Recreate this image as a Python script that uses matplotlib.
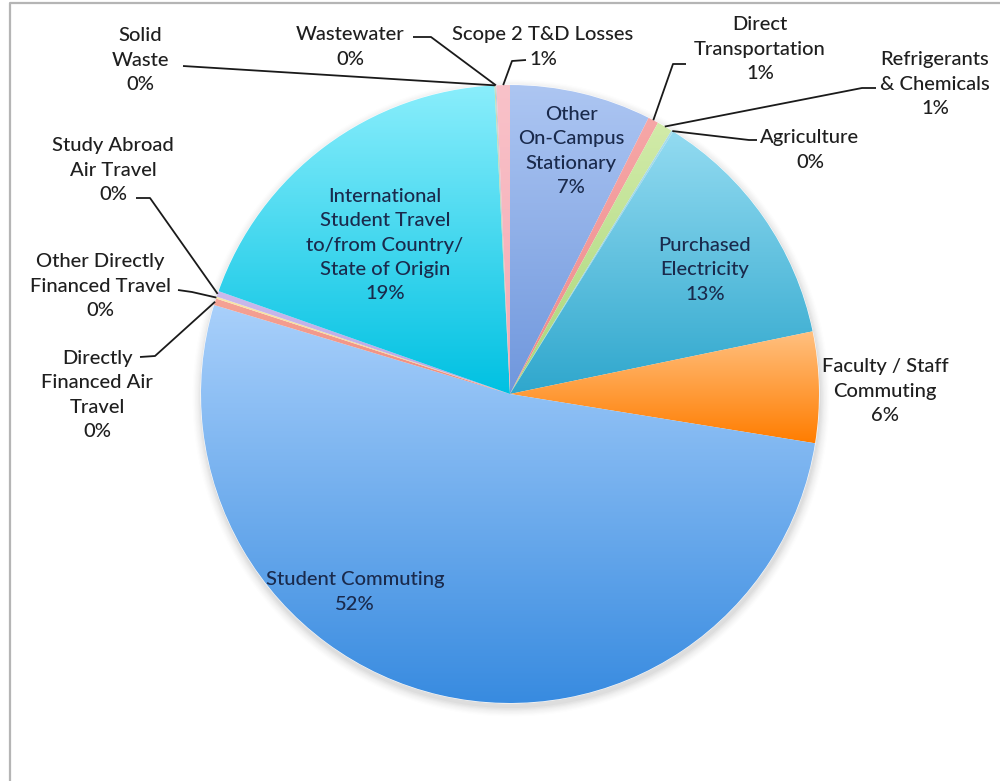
import numpy as np
import matplotlib
matplotlib.use("Agg")
import matplotlib.pyplot as plt
from matplotlib.colors import to_rgb
from matplotlib.patches import Circle

plt.rcParams["font.family"] = ["Lato", "DejaVu Sans"]

# Emission sources (percent of total), clockwise from 12 o'clock
categories = [
    "Other\nOn-Campus\nStationary",
    "Direct\nTransportation",
    "Refrigerants\n& Chemicals",
    "Agriculture",
    "Purchased\nElectricity",
    "Faculty / Staff\nCommuting",
    "Student Commuting",
    "Directly\nFinanced Air\nTravel",
    "Other Directly\nFinanced Travel",
    "Study Abroad\nAir Travel",
    "International\nStudent Travel\nto/from Country/\nState of Origin",
    "Solid\nWaste",
    "Wastewater",
    "Scope 2 T&D Losses",
]
shares = [7.4, 0.55, 0.8, 0.1, 12.9, 5.8, 52.1, 0.35, 0.1, 0.3, 18.8, 0.05, 0.05, 0.7]

# (top colour, bottom colour) of each slice's vertical gradient
gradients = [
    ("#adc6f2", "#6f97dd"),
    ("#f6a7a7", "#ee8a8a"),
    ("#d2eba9", "#a8d679"),
    ("#a9dcea", "#8fcfe2"),
    ("#93dbf1", "#2fa7cd"),
    ("#ffc080", "#ff7d00"),
    ("#a9d0fb", "#388be0"),
    ("#f5a396", "#ef8a7a"),
    ("#f8e6a8", "#f1d88a"),
    ("#cbbaec", "#b9a3e2"),
    ("#8aeefc", "#00c1e2"),
    ("#c9d9a8", "#b8cc90"),
    ("#bfc9d9", "#a9b5c9"),
    ("#f9c2c9", "#f4a9b2"),
]

W, H = 1000, 781
fig = plt.figure(figsize=(W / 100, H / 100), dpi=100)
ax = fig.add_axes([0, 0, 1, 1])
ax.set_axis_off()


def px(x, y):
    """Pixel position (origin top-left) to data coordinates."""
    return x, H - y


cx, cy = px(510, 394)
R = 309

# soft drop shadow under the pie
for k, a in enumerate(np.linspace(0.05, 0.012, 8)):
    ax.add_patch(Circle((cx + 1, cy - 4), R + 1 + k * 1.2, color="#7a7a7a",
                        alpha=a, lw=0, zorder=0))
ax.add_patch(Circle((cx, cy), R + 0.5, color="white", lw=0, zorder=0.5))

wedges, _ = ax.pie(shares, center=(cx, cy), radius=R, startangle=90,
                   counterclock=False, wedgeprops=dict(linewidth=0))

for w, (ctop, cbot) in zip(wedges, gradients):
    w.set_facecolor("none")
    bb = w.get_path().get_extents()
    t = np.linspace(0, 1, 256)[:, None]
    c0, c1 = np.array(to_rgb(ctop)), np.array(to_rgb(cbot))
    img = (c0[None, :] * (1 - t) + c1[None, :] * t)[:, None, :]
    im = ax.imshow(img, extent=(bb.x0, bb.x1, bb.y0, bb.y1), origin="upper",
                   aspect="auto", zorder=1, interpolation="bilinear")
    im.set_clip_path(w)

total = sum(shares)
pct = [f"{round(100 * v / total)}%" for v in shares]

INSIDE = "#1a2a4c"
OUTSIDE = "#1f1f1f"
FS = 14.5
LS = 1.52


def edge_point(i):
    w = wedges[i]
    th = np.deg2rad((w.theta1 + w.theta2) / 2)
    return cx + R * np.cos(th), cy + R * np.sin(th)


# label block centres (pixels) and leader elbows (pixels)
layout = {
    0: ((571, 151), None, INSIDE),
    1: ((760, 49), [(686, 64), (673, 64)], OUTSIDE),
    2: ((935, 84), [(876, 88), (862, 88)], OUTSIDE),
    3: ((810, 150), [(757, 140), (749, 140)], OUTSIDE),
    4: ((705, 270), None, INSIDE),
    5: ((885, 391), None, OUTSIDE),
    6: ((355, 592), None, INSIDE),
    7: ((97, 395), [(140, 357), (155, 356)], OUTSIDE),
    8: ((100, 286), [(178, 290), (192, 292)], OUTSIDE),
    9: ((113, 170), [(136, 198), (150, 198)], OUTSIDE),
    10: ((385, 245), None, INSIDE),
    11: ((140, 60), [(183, 66)], OUTSIDE),
    12: ((350, 47), [(413, 37), (431, 37)], OUTSIDE),
    13: ((543, 47), [(526, 60), (512, 61)], OUTSIDE),
}

for i, ((tx, ty), elbows, col) in layout.items():
    x, y = px(tx, ty)
    ax.text(x, y, f"{categories[i]}\n{pct[i]}", ha="center", va="center",
            fontsize=FS, color=col, linespacing=LS, fontweight="medium",
            zorder=5)
    if elbows:
        pts = [px(a, b) for a, b in elbows] + [edge_point(i)]
        xs, ys = zip(*pts)
        ax.plot(xs, ys, color="#1a1a1a", lw=1.3, zorder=4,
                solid_capstyle="butt")

# chart frame (left and top edges visible)
ax.plot([10, 10, W + 5], [-5, H - 3, H - 3], color="#b5b5b5", lw=1.6,
        zorder=6, clip_on=False)

ax.set_xlim(0, W)
ax.set_ylim(0, H)
ax.set_aspect("auto")

fig.savefig("out.png", dpi=100, facecolor="white")
